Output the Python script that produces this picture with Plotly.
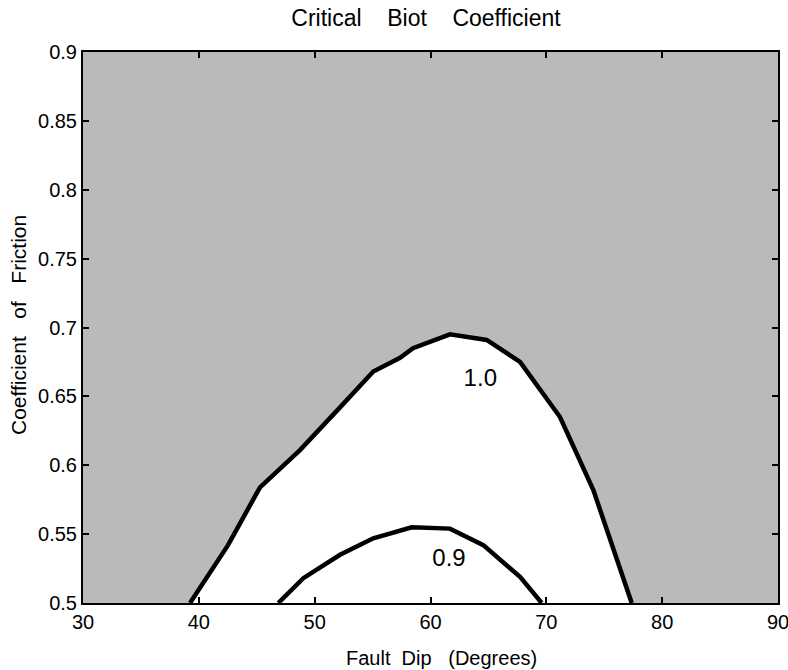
import plotly.graph_objects as go

# Data
dip_10 = [39.24, 42.52, 45.28, 48.73, 52.19, 55.06, 57.37, 58.49, 61.68, 64.85, 67.73, 71.18, 74.06, 77.37]
mu_10 = [0.500, 0.542, 0.584, 0.611, 0.642, 0.668, 0.678, 0.685, 0.695, 0.691, 0.675, 0.635, 0.582, 0.500]

dip_09 = [46.86, 49.02, 52.19, 55.06, 58.38, 61.68, 64.56, 67.73, 69.60]
mu_09 = [0.500, 0.518, 0.535, 0.547, 0.555, 0.554, 0.542, 0.519, 0.500]

label_text = ["1.0", "0.9"]
label_x = [64.3, 61.6]
label_y = [0.662, 0.531]

x_ticks = [30, 40, 50, 60, 70, 80, 90]
y_ticks = [0.5, 0.55, 0.6, 0.65, 0.7, 0.75, 0.8, 0.85, 0.9]
y_ticktext = ["0.5", "0.55", "0.6", "0.65", "0.7", "0.75", "0.8", "0.85", "0.9"]

FONT = "Liberation Sans, Arial, sans-serif"

fig = go.Figure()
fig.add_trace(go.Scatter(x=dip_10, y=mu_10, mode="lines", fill="toself",
                         fillcolor="white", line=dict(color="black", width=4.5),
                         hoverinfo="skip", showlegend=False))
fig.add_trace(go.Scatter(x=dip_09, y=mu_09, mode="lines",
                         line=dict(color="black", width=4.5),
                         hoverinfo="skip", showlegend=False))
fig.add_trace(go.Scatter(x=label_x, y=label_y, mode="text", text=label_text,
                         textfont=dict(family=FONT, size=24, color="black"),
                         hoverinfo="skip", showlegend=False))

axis_common = dict(showline=True, linecolor="black", linewidth=2, mirror="ticks",
                   ticks="inside", ticklen=6, tickcolor="black", tickwidth=1.5,
                   showgrid=False, zeroline=False, automargin=False,
                   tickfont=dict(family=FONT, size=20, color="black"))

fig.update_xaxes(range=[30, 90], tickvals=x_ticks, **axis_common)
fig.update_yaxes(range=[0.5, 0.9], tickvals=y_ticks, ticktext=y_ticktext, **axis_common)

fig.add_annotation(text="Fault  Dip   (Degrees)", xref="paper", yref="paper",
                   x=0.5165, y=-0.0998, xanchor="center", yanchor="middle", showarrow=False,
                   font=dict(family=FONT, size=20, color="black"))
fig.add_annotation(text="Coefficient   of   Friction", xref="paper", yref="paper",
                   x=-0.0935, y=0.5045, xanchor="center", yanchor="middle", showarrow=False,
                   textangle=-90, font=dict(family=FONT, size=21, color="black"))

fig.update_layout(
    width=792, height=670,
    margin=dict(l=83, r=14, t=52, b=67),
    plot_bgcolor="#bababa", paper_bgcolor="white",
    title=dict(text="Critical    Biot    Coefficient", x=426 / 792, xanchor="center",
               yref="container", y=1 - 18 / 670, yanchor="middle",
               font=dict(family=FONT, size=23, color="black")),
)

fig.write_html("out.html", config={"displayModeBar": False},
               post_script="document.body.style.margin='0';document.body.style.overflow='hidden';")
